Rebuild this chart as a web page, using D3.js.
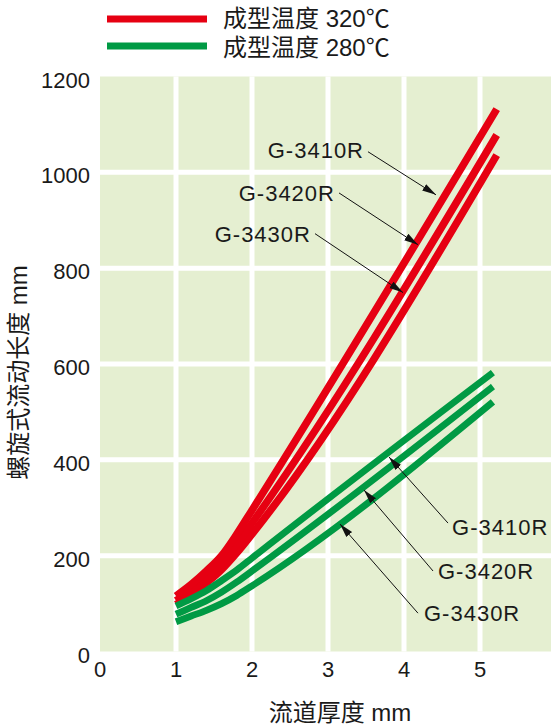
<!DOCTYPE html>
<html><head><meta charset="utf-8">
<script src="https://cdn.jsdelivr.net/npm/d3@7"></script>
<style>
body{margin:0;background:#fff}
svg{display:block}
text{font-family:"Liberation Sans",Arial,"Noto Sans CJK SC",sans-serif;fill:#1a1a1a}
.cjk{font-family:"Liberation Sans","Noto Sans CJK SC",sans-serif}
</style>
</head><body>
<svg id="c" width="551" height="727"></svg>
<script>
// ---- data ----
const xTicks = [0, 1, 2, 3, 4, 5];
const yTicks = [0, 200, 400, 600, 800, 1000, 1200];
const xGrid = [1, 2, 3, 4, 5];
const yGrid = [200, 400, 600, 800, 1000];

const redX = [1, 1.2, 1.4, 1.6, 1.8, 2.0, 5.22];
const red3410 = [116, 140, 168, 200, 245, 295, 1132];
const red3420 = [106, 128, 155, 185, 224, 268, 1078];
const red3430 = [98, 118, 143, 171, 206, 245, 1036];

const greenX = [1, 1.2, 1.4, 1.6, 1.8, 2.0, 5.17];
const green3410 = [95, 110, 127, 148, 170, 195, 582];
const green3420 = [78, 92, 106, 124, 145, 168, 553];
const green3430 = [62, 74, 86, 100, 117, 137, 521];

const legendLabels = ["成型温度 320℃", "成型温度 280℃"];
const gradeNames = ["G-3410R", "G-3420R", "G-3430R"];
// annotation positions in data units: label anchor (lx,ly), arrow from (ax,ay) to (tx,ty)
const redNoteLX = [3.474, 3.092, 2.776];
const redNoteLY = [1046, 957, 872];
const redArrowFromX = [3.526, 3.145, 2.829];
const redArrowFromY = [1043, 957, 872];
const redArrowToX = [4.421, 4.184, 3.987];
const redArrowToY = [953, 849, 749];

const greenNoteLX = [4.632, 4.447, 4.263];
const greenNoteLY = [260, 168, 80];
const greenArrowFromX = [4.579, 4.382, 4.184];
const greenArrowFromY = [268, 168, 80];
const greenArrowToX = [3.803, 3.474, 3.158];
const greenArrowToY = [406, 337, 266];

const xTitle = "流道厚度 mm";
const yTitle = "螺旋式流动长度 mm";

// ---- drawing ----
const RED = "#e60012", GREEN = "#009a44", BG = "#e5efd1";
const svg = d3.select("#c");
const x = d3.scaleLinear().domain([0, 6]).range([100, 556]);
const y = d3.scaleLinear().domain([0, 1200]).range([651.5, 76.5]);

svg.append("defs").append("marker")
  .attr("id", "ah").attr("markerUnits", "userSpaceOnUse")
  .attr("markerWidth", 16).attr("markerHeight", 10)
  .attr("viewBox", "0 -5 16 10").attr("refX", 14).attr("refY", 0)
  .attr("orient", "auto")
  .append("path").attr("d", "M0,-3.8L14,0L0,3.8Z").attr("fill", "#111");

svg.append("rect")
  .attr("x", x(0)).attr("y", y(1200))
  .attr("width", x(6) - x(0)).attr("height", y(0) - y(1200))
  .attr("fill", BG);

svg.append("g").selectAll("line").data(xGrid).join("line")
  .attr("x1", d => x(d)).attr("x2", d => x(d))
  .attr("y1", y(1200)).attr("y2", y(0))
  .attr("stroke", "#fff").attr("stroke-width", 5);
svg.append("g").selectAll("line").data(yGrid).join("line")
  .attr("x1", x(0)).attr("x2", x(6))
  .attr("y1", d => y(d)).attr("y2", d => y(d))
  .attr("stroke", "#fff").attr("stroke-width", 5);

// tick labels
svg.append("g").selectAll("text").data(yTicks).join("text")
  .attr("x", 90).attr("y", d => y(d) + 11)
  .attr("text-anchor", "end").attr("font-size", 22)
  .text(d => d);
svg.append("g").selectAll("text").data(xTicks).join("text")
  .attr("x", d => x(d)).attr("y", 677)
  .attr("text-anchor", "middle").attr("font-size", 22)
  .text(d => d);

// titles
svg.append("text").attr("class", "cjk")
  .attr("x", 340).attr("y", 721).attr("text-anchor", "middle")
  .attr("font-size", 24).text(xTitle);
svg.append("text").attr("class", "cjk")
  .attr("transform", "translate(27,372.5) rotate(-90)")
  .attr("text-anchor", "middle").attr("font-size", 24).text(yTitle);

// series
const line = d3.line().curve(d3.curveMonotoneX);
function drawSeries(xs, ys, color, w) {
  svg.append("path")
    .attr("d", line(xs.map((v, i) => [x(v), y(ys[i])])))
    .attr("fill", "none").attr("stroke", color)
    .attr("stroke-width", w).attr("stroke-linejoin", "round");
}
[red3430, red3420, red3410].forEach(s => drawSeries(redX, s, RED, 7.5));
[green3430, green3420, green3410].forEach(s => drawSeries(greenX, s, GREEN, 6.8));

// annotations
function notes(lx, ly, fx, fy, tx, ty, anchor) {
  gradeNames.forEach((name, i) => {
    svg.append("line")
      .attr("x1", x(fx[i])).attr("y1", y(fy[i]))
      .attr("x2", x(tx[i])).attr("y2", y(ty[i]))
      .attr("stroke", "#111").attr("stroke-width", 1)
      .attr("marker-end", "url(#ah)");
    svg.append("text")
      .attr("x", x(lx[i])).attr("y", y(ly[i])).attr("dy", "0.36em")
      .attr("text-anchor", anchor).attr("font-size", 22)
      .attr("letter-spacing", 1).text(name);
  });
}
notes(redNoteLX, redNoteLY, redArrowFromX, redArrowFromY, redArrowToX, redArrowToY, "end");
notes(greenNoteLX, greenNoteLY, greenArrowFromX, greenArrowFromY, greenArrowToX, greenArrowToY, "start");

// legend
const legColors = [RED, GREEN];
const legG = svg.append("g");
legendLabels.forEach((lab, i) => {
  const cy = 19 + i * 27;
  legG.append("line").attr("x1", 107).attr("x2", 207)
    .attr("y1", cy).attr("y2", cy)
    .attr("stroke", legColors[i]).attr("stroke-width", 7);
  legG.append("text").attr("class", "cjk")
    .attr("x", 223).attr("y", 26.5 + i * 29.5)
    .attr("font-size", 24).text(lab);
});
</script>
</body></html>
